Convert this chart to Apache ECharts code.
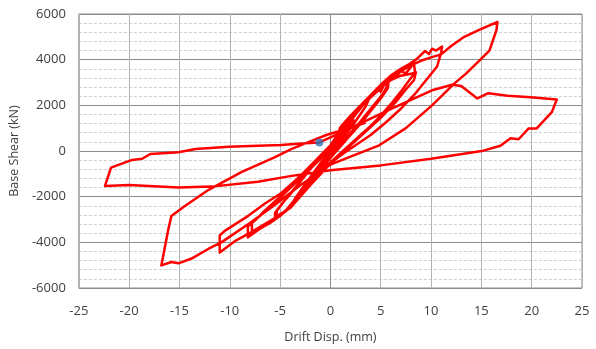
<!DOCTYPE html>
<html>
<head>
<meta charset="utf-8">
<script src="https://cdn.jsdelivr.net/npm/echarts@6/dist/echarts.min.js"></script>
<style>
html,body{margin:0;padding:0;background:#fff;}
#chart{width:596px;height:349px;}
</style>
</head>
<body>
<div id="chart"></div>
<script>
// Drift (mm), base shear (kN) pairs, one array per cycle
const cycle1 = [[0,0],[1,600],[2,1200],[2.3,1350],[2.0,1100],[1,500],[0,-100],[-1,-650],[-2,-1200],[-2.4,-1400],[-2.0,-1150],[-1,-550],[0,50]];
const cycle2 = [[0.5,450],[1.5,1000],[2.5,1600],[3.5,2150],[3.8,2250],[3.5,1950],[2.5,1300],[1.5,700],[0.5,100],[-0.5,-450],[-1.5,-1000],[-2.5,-1600],[-3.5,-2100],[-3.8,-2300],[-3.4,-2000],[-2.5,-1450],[-1.5,-850],[-0.5,-250],[0.3,250]];
const cycle3 = [[1,1050],[2,1550],[3,2000],[4,2450],[4.6,2700],[5,2600],[5.5,3050],[5.6,2800],[5.2,2500],[4.2,1950],[3,1300],[2,800],[1,250],[0,-250],[-1,-800],[-2,-1300],[-3,-1850],[-4,-2400],[-4.4,-2630],[-5,-2750],[-5.5,-3000],[-5.5,-2700],[-4.8,-2300],[-4,-1900],[-3,-1350],[-2,-800],[-1,-300],[0,200]];
const cycle3b = [[1,900],[2,1400],[3,1900],[4,2350],[5,2750],[5.8,3090],[5.7,2750],[5,2300],[4,1750],[3,1200],[2,700],[1,200],[0,-300],[-1,-850],[-2,-1400],[-3,-1950],[-4,-2450],[-5,-2800],[-5.4,-2920],[-5.3,-2600],[-4.5,-2150],[-3.5,-1600],[-2.5,-1050],[-1.5,-500],[-0.5,0],[0.3,400]];
const cycle4 = [[1,950],[2,1500],[3,2000],[4,2450],[5,2850],[6,3150],[6.5,3250],[7,3500],[7.5,3400],[8.3,3850],[8.4,3450],[8,3200],[7,2600],[6,2050],[5,1550],[4,1100],[3,700],[2,300],[1,-100],[0,-500],[-1,-950],[-2,-1450],[-3,-1950],[-4,-2450],[-5,-2850],[-6,-3150],[-7,-3400],[-8.2,-3780],[-8.2,-3300],[-7.5,-3050],[-6.5,-2600],[-5,-2000],[-4,-1550],[-3,-1100],[-2,-650],[-1,-200],[0,250]];
const cycle4b = [[1,900],[2,1450],[3,1950],[4,2400],[5,2800],[6,3100],[7,3300],[8,3380],[8.5,3450],[8.3,3100],[7.5,2700],[6.5,2150],[5,1450],[3.5,850],[2,250],[1,-200],[0,-550],[-2,-1500],[-4,-2500],[-6,-3100],[-7.8,-3550],[-7.8,-3150],[-6.5,-2650],[-5,-2050],[-3,-1200],[-1,-350],[0,200]];
const cycle5 = [[1,900],[2,1450],[3,1950],[4,2450],[5,2900],[6,3300],[7,3600],[7.8,3800],[8.5,4000],[9.4,4380],[9.8,4250],[10.1,4480],[10.5,4400],[11.1,4570],[11,4300],[10.6,3700],[9.5,3100],[8.5,2550],[7,1850],[5.5,1250],[4,700],[2.5,250],[1,-200],[0,-550],[-2,-1300],[-4.6,-2700],[-7.9,-3560],[-9.5,-3950],[-11,-4450],[-11,-3700],[-10.5,-3500],[-8.2,-2850],[-6.5,-2300],[-4.9,-1850],[-3,-1100],[-1.5,-450],[0,100]];
const cycle6 = [[1,850],[2,1400],[3,1900],[4,2400],[5,2850],[6,3200],[7,3500],[8,3750],[9,3950],[10,4100],[11,4230],[12,4600],[13.3,5000],[15,5350],[16.6,5650],[16.5,5300],[15.8,4400],[14.9,4000],[13.5,3400],[12.3,2950],[10.1,2000],[7.5,1000],[4.85,250],[2,-250],[0,-600],[-3,-1500],[-5.5,-2350],[-8,-3150],[-10.8,-3990],[-12.1,-4280],[-13.8,-4710],[-15.1,-4920],[-15.8,-4860],[-16.8,-5010],[-16.1,-3420],[-15.8,-2850],[-14.5,-2420],[-12.1,-1700],[-8.8,-915],[-5.5,-270],[-3.9,86],[-2,420],[-0.4,700],[2.2,1050],[6.2,1880],[10.1,2660],[12.1,2900]];
const cycle7 = [[13,2850],[14.6,2300],[15.7,2530],[17.6,2420],[19.9,2350],[22.5,2260],[22,1700],[20.5,990],[19.7,990],[18.7,515],[17.9,560],[16.9,230],[15.2,15],[10,-340],[5,-630],[0,-840],[-4,-1100],[-7.2,-1345],[-11.8,-1560],[-15.1,-1600],[-20,-1490],[-22.4,-1530],[-21.8,-730],[-21.2,-630],[-19.7,-390],[-18.7,-340],[-17.9,-130],[-15.1,-55],[-13.4,85],[-10.1,190],[-7.2,230],[-4.9,260],[-2.9,330],[-1.1,375],[0.5,700],[2,1000],[3.5,1250]];
const markerPoint = [[-1.1,375]];

const xTicks = [-25,-20,-15,-10,-5,0,5,10,15,20,25];
const yTicks = [-6000,-4000,-2000,0,2000,4000,6000];

const loop = [].concat(cycle1, cycle2, cycle3, cycle3b, cycle4, cycle4b, cycle5, cycle6, cycle7);

const chart = echarts.init(document.getElementById('chart'), null, {renderer:'canvas'});
const font = '"Open Sans", "Liberation Sans", sans-serif';
const vColors = xTicks.map(v => v === 0 ? '#8c8c8c' : '#b4b4b4');
chart.setOption({
  animation:false,
  grid:{left:77, right:14, top:14, bottom:56, show:true, borderColor:'#8a8a8a', borderWidth:1, backgroundColor:'transparent'},
  xAxis:{
    type:'value', min:xTicks[0], max:xTicks[xTicks.length-1], interval:5,
    name:'Drift Disp. (mm)', nameLocation:'middle', nameGap:43,
    nameTextStyle:{fontFamily:font, fontSize:12.5, color:'#404040'},
    axisLine:{show:false}, axisTick:{show:false},
    axisLabel:{fontFamily:font, fontSize:13, color:'#404040', margin:17, formatter:v => String(v)},
    splitLine:{show:true, lineStyle:{color:vColors, width:1}}
  },
  yAxis:{
    type:'value', min:yTicks[0], max:yTicks[yTicks.length-1], interval:2000,
    name:'Base Shear (kN)', nameLocation:'middle', nameGap:48,
    nameTextStyle:{fontFamily:font, fontSize:12.5, color:'#404040'},
    axisLine:{show:false}, axisTick:{show:false},
    axisLabel:{fontFamily:font, fontSize:13, color:'#404040', margin:13, formatter:v => String(v)},
    splitLine:{show:true, lineStyle:{color:'#8c8c8c', width:1}},
    minorTick:{show:false, splitNumber:5},
    minorSplitLine:{show:true, lineStyle:{color:'#cfcfcf', width:1, type:[3,2]}}
  },
  series:[
    {type:'line', data:loop, showSymbol:false, smooth:false, lineStyle:{color:'#ff0000', width:2.5, join:'round'}, z:2},
    {type:'scatter', data:markerPoint, symbolSize:8, itemStyle:{color:'#2e75b6'}, z:3}
  ]
});
</script>
</body>
</html>
